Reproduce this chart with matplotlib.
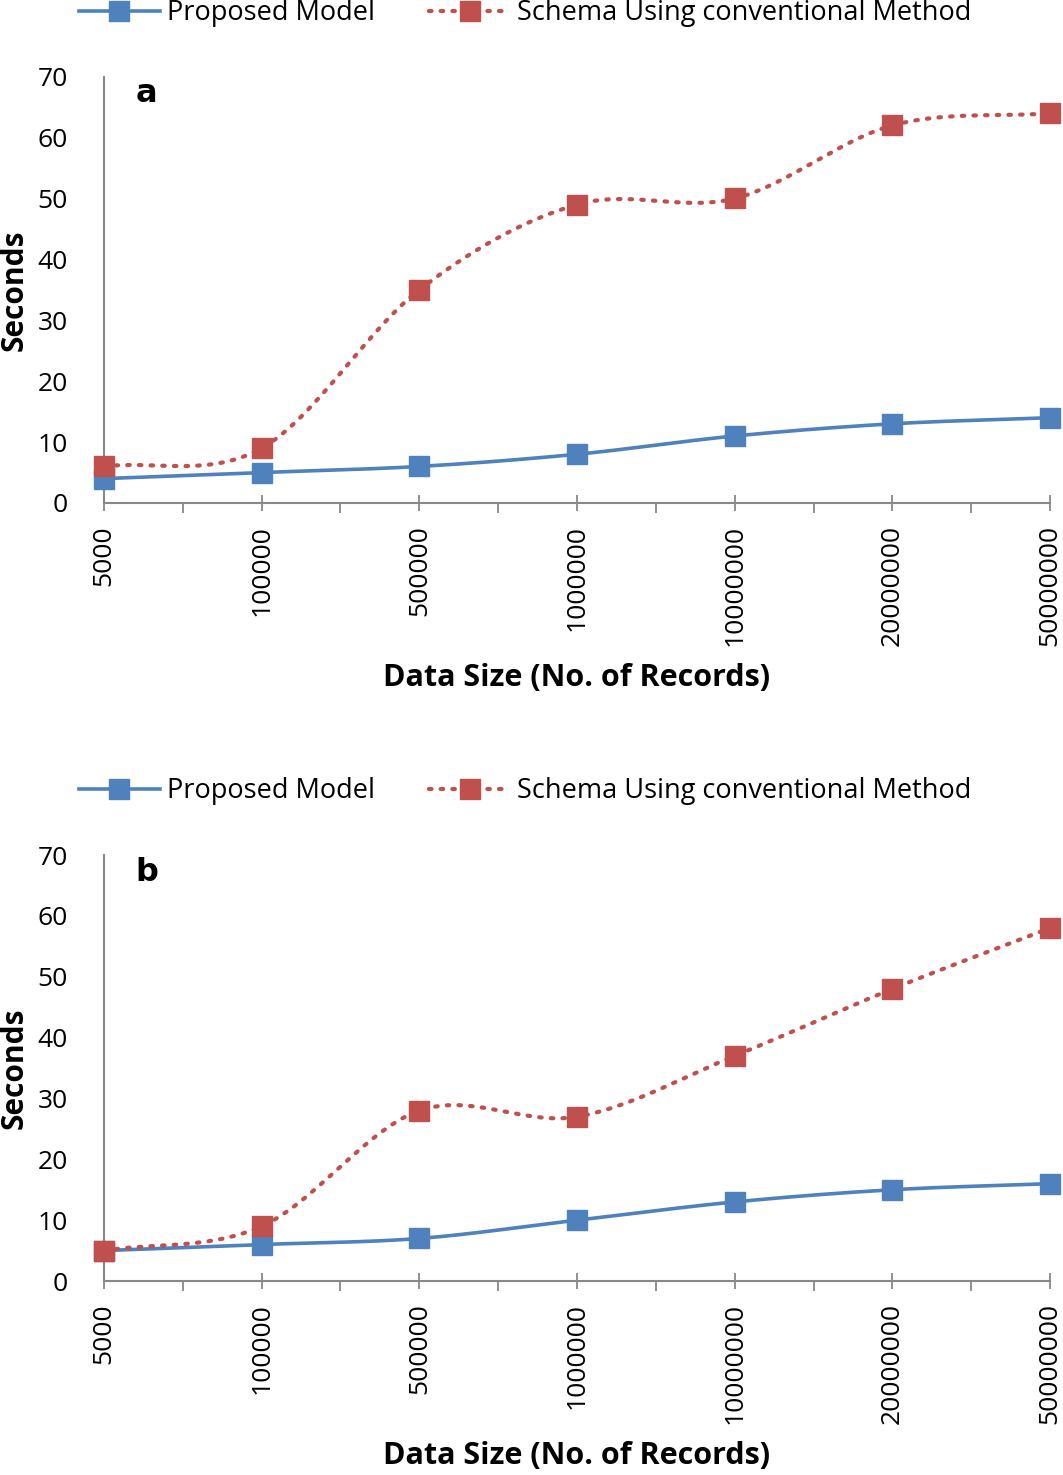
import numpy as np
import matplotlib.pyplot as plt
from matplotlib.ticker import MultipleLocator, FixedLocator

plt.rcParams['font.family'] = ['Open Sans', 'DejaVu Sans']

sizes = ['5000', '100000', '500000', '1000000', '10000000', '20000000', '50000000']
proposed_a = [4, 5, 6, 8, 11, 13, 14]
conventional_a = [6, 9, 35, 49, 50, 62, 64]
proposed_b = [5, 6, 7, 10, 13, 15, 16]
conventional_b = [5, 9, 28, 27, 37, 48, 58]

blue = '#4F81BD'
red = '#C0504D'


def smooth(x, y, n=30):
    # Catmull-Rom curve through the points, like Excel's smoothed line
    x = np.asarray(x, float)
    y = np.asarray(y, float)
    px = np.concatenate([[2 * x[0] - x[1]], x, [2 * x[-1] - x[-2]]])
    py = np.concatenate([[2 * y[0] - y[1]], y, [2 * y[-1] - y[-2]]])
    xs, ys = [], []
    t = np.linspace(0, 1, n)
    for i in range(1, len(px) - 2):
        for p, out in ((px, xs), (py, ys)):
            p0, p1, p2, p3 = p[i - 1], p[i], p[i + 1], p[i + 2]
            out.extend(0.5 * (2 * p1 + (-p0 + p2) * t
                              + (2 * p0 - 5 * p1 + 4 * p2 - p3) * t ** 2
                              + (-p0 + 3 * p1 - 3 * p2 + p3) * t ** 3))
    return xs, ys


fig = plt.figure(figsize=(10.63, 14.75), dpi=100)

panels = [
    ('a', proposed_a, conventional_a, [0.0978, 0.659, 0.89, 0.289], 0.991),
    ('b', proposed_b, conventional_b, [0.0978, 0.1315, 0.89, 0.2888], 0.4637),
]

for letter, prop, conv, rect, leg_y in panels:
    ax = fig.add_axes(rect)
    x = np.arange(len(sizes))

    sx, sy = smooth(x, prop)
    ax.plot(sx, sy, color=blue, lw=2.6, clip_on=False, zorder=3)
    ax.plot(x, prop, 's', color=blue, ms=14, clip_on=False, zorder=4)
    sx, sy = smooth(x, conv)
    ax.plot(sx, sy, color=red, lw=3, linestyle=(0, (0.6, 2.2)),
            dash_capstyle='round', clip_on=False, zorder=3)
    ax.plot(x, conv, 's', color=red, ms=14, clip_on=False, zorder=4)

    # legend handles
    ax.plot([], [], color=blue, lw=2.6, marker='s', ms=14, label='Proposed Model')
    ax.plot([], [], color=red, lw=3, linestyle=(0, (0.6, 2.2)), dash_capstyle='round',
            marker='s', ms=14, label='Schema Using conventional Method')
    ax.legend(loc='center', bbox_to_anchor=(0.494, leg_y), bbox_transform=fig.transFigure,
              ncol=2, frameon=False, fontsize=19.5, handlelength=3.0, handletextpad=0.25,
              columnspacing=2.0, borderaxespad=0)

    ax.set_xlim(0, len(sizes) - 1)
    ax.set_ylim(0, 70)
    ax.yaxis.set_major_locator(MultipleLocator(10))
    ax.set_xticks(x)
    ax.set_xticklabels(sizes, rotation=90, fontsize=19)
    ax.xaxis.set_minor_locator(FixedLocator(x[:-1] + 0.5))
    ax.tick_params(axis='x', which='major', direction='inout', length=12, width=1.3,
                   color='#888888', pad=10)
    ax.tick_params(axis='x', which='minor', direction='out', length=7, width=1.3,
                   color='#888888')
    ax.tick_params(axis='y', length=0, labelsize=19, pad=26)
    for s in ['top', 'right']:
        ax.spines[s].set_visible(False)
    for s in ['left', 'bottom']:
        ax.spines[s].set_color('#888888')
        ax.spines[s].set_linewidth(1.5)

    ax.text(0.033, 0.96, letter, transform=ax.transAxes, fontsize=23,
            fontweight='bold', family='DejaVu Sans', va='center')
    ax.set_ylabel('Seconds', fontsize=21.5, fontweight='bold', labelpad=6)
    ax.set_xlabel('Data Size (No. of Records)', fontsize=22, fontweight='bold', labelpad=12)

fig.savefig('out.png', dpi=100)
